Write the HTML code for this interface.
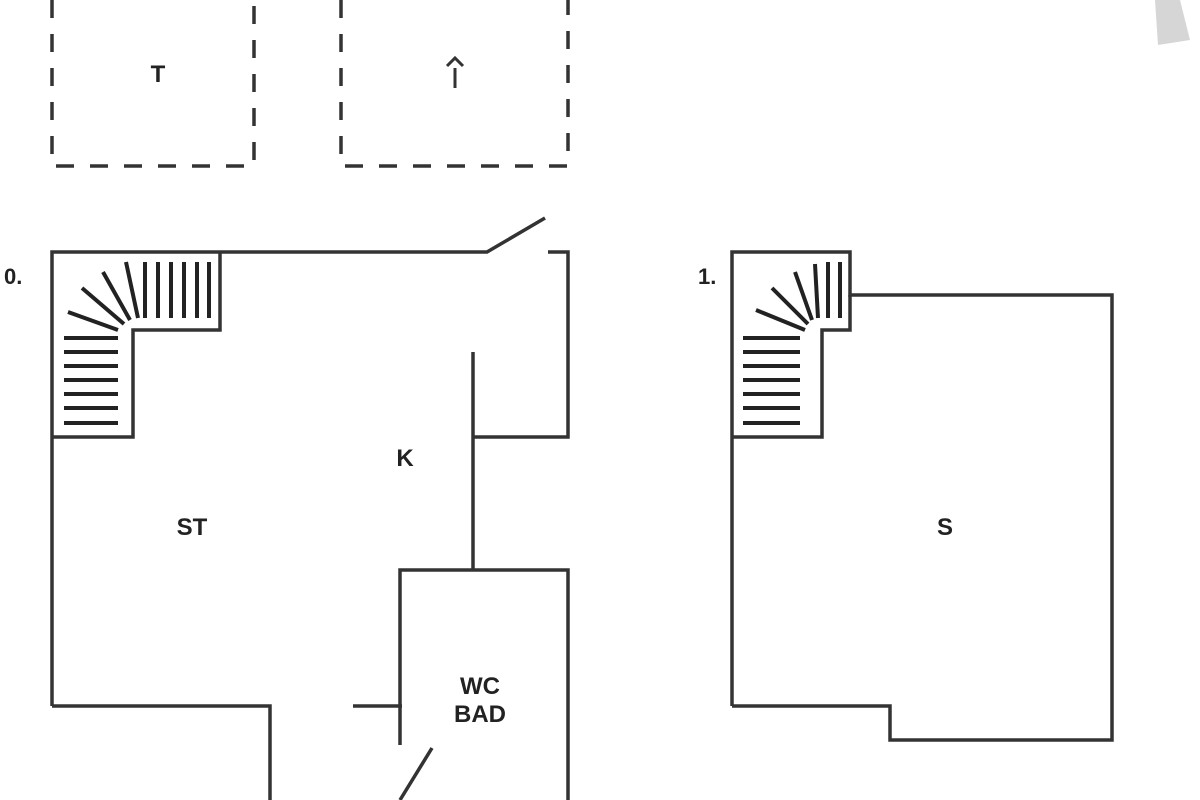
<!DOCTYPE html>
<html><head><meta charset="utf-8"><style>
html,body{margin:0;padding:0;background:#fff;width:1200px;height:800px;overflow:hidden}
text{font-family:"Liberation Sans","DejaVu Sans",sans-serif;font-weight:bold;fill:#222}
</style></head><body>
<svg width="1200" height="800" viewBox="0 0 1200 800" xmlns="http://www.w3.org/2000/svg">
<g fill="none" stroke="#333" stroke-width="3.5" stroke-dasharray="18 16">
<path d="M52 0 V166 H254 V0"/>
<path d="M341 0 V166 H568 V0"/>
</g>
<g fill="none" stroke="#333" stroke-width="3.5">
<!-- floor 0 -->
<path d="M52 706 V252 H487 L545 218"/>
<path d="M548 252 H568 V437 H473"/>
<path d="M473 352 V570"/>
<path d="M400 745 V570 H568 V800"/>
<path d="M353 706 H402"/>
<path d="M432 748 L400 800"/>
<path d="M52 706 H270 V800"/>
<path d="M52 437 H133 V330 H220 V252"/>
<!-- floor 1 -->
<path d="M732 706 V252 H850 V295 H1112 V740 H890 V706 H732"/>
<path d="M732 437 H822 V330 H850 V295"/>
</g>
<g stroke="#222" stroke-width="4" fill="none">
<path d="M145 262V318M158 262V318M171 262V318M184 262V318M197 262V318M209 262V318"/>
<path d="M126 262L138 318M103 272L130 320M82 288L124 324M68 312L118 330"/>
<path d="M64 338H118M64 352H118M64 366H118M64 380H118M64 394H118M64 408H118M64 423H118"/>
<path d="M840 262V318M828 262V318M815 264L818 318M795 272L812 320M772 288L808 324M756 310L805 330"/>
<path d="M743 338H800M743 352H800M743 366H800M743 380H800M743 394H800M743 408H800M743 423H800"/>
</g>
<g stroke="#333" stroke-width="3" fill="none">
<path d="M455 88V68M447 66L455 58L463 66"/>
</g>
<polygon points="1155,0 1180,0 1190,40 1158,45" fill="#bbb" opacity="0.6"/>
<text x="158" y="82" font-size="24" text-anchor="middle">T</text>
<text x="192" y="535" font-size="24" text-anchor="middle">ST</text>
<text x="405" y="466" font-size="24" text-anchor="middle">K</text>
<text x="945" y="535" font-size="24" text-anchor="middle">S</text>
<text x="480" y="694" font-size="24" text-anchor="middle">WC</text>
<text x="480" y="722" font-size="24" text-anchor="middle">BAD</text>
<text x="4" y="284" font-size="22">0.</text>
<text x="698" y="284" font-size="22">1.</text>
</svg>
</body></html>
